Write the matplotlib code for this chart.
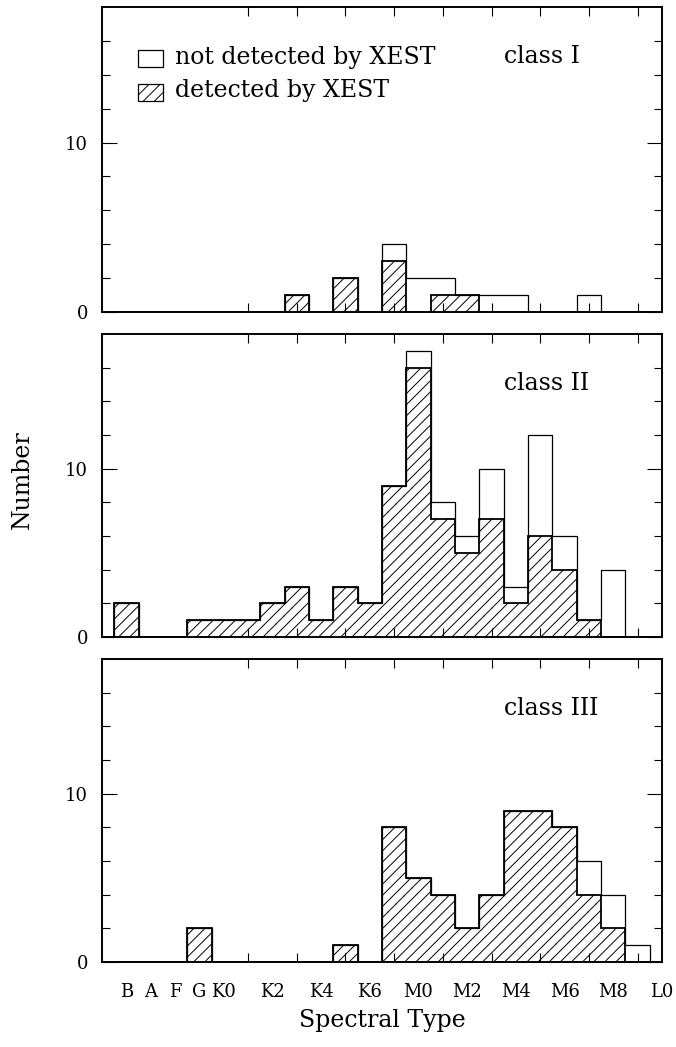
import numpy as np
import matplotlib
matplotlib.use('Agg')
import matplotlib.pyplot as plt
from matplotlib.patches import Rectangle

plt.rcParams['font.family'] = 'DejaVu Serif'
plt.rcParams['hatch.linewidth'] = 0.7

# spectral type bins B ... M9 (one bin per integer position)
bin_pos = np.arange(1, 23)
edges = np.arange(0.5, 23.0, 1.0)

type_pos = [1, 2, 3, 4, 5, 7, 9, 11, 13, 15, 17, 19, 21, 23]
type_labels = ['B', 'A', 'F', 'G', 'K0', 'K2', 'K4', 'K6', 'M0', 'M2', 'M4', 'M6', 'M8', 'L0']

# class I
total_1 = [0, 0, 0, 0, 0, 0, 0, 1, 0, 2, 0, 4, 2, 2, 1, 1, 1, 0, 0, 1, 0, 0]
xest_1 = [0, 0, 0, 0, 0, 0, 0, 1, 0, 2, 0, 3, 0, 1, 1, 0, 0, 0, 0, 0, 0, 0]
# class II
total_2 = [2, 0, 0, 1, 1, 1, 2, 3, 1, 3, 2, 9, 17, 8, 6, 10, 3, 12, 6, 1, 4, 0]
xest_2 = [2, 0, 0, 1, 1, 1, 2, 3, 1, 3, 2, 9, 16, 7, 5, 7, 2, 6, 4, 1, 0, 0]
# class III
total_3 = [0, 0, 0, 2, 0, 0, 0, 0, 0, 1, 0, 8, 5, 4, 2, 4, 9, 9, 8, 6, 4, 1]
xest_3 = [0, 0, 0, 2, 0, 0, 0, 0, 0, 1, 0, 8, 5, 4, 2, 4, 9, 9, 8, 4, 2, 0]

panels = [(total_1, xest_1, 'class I'),
          (total_2, xest_2, 'class II'),
          (total_3, xest_3, 'class III')]

W, H = 676, 1047
fig = plt.figure(figsize=(W / 100, H / 100), dpi=100)

left, right = 102, 662
tops = [(7, 312), (334, 637), (659, 962)]

for i, (total, xest, name) in enumerate(panels):
    y0, y1 = tops[i]
    ax = fig.add_axes([left / W, 1 - y1 / H, (right - left) / W, (y1 - y0) / H])

    ax.stairs(xest, edges, fill=True, facecolor='none', edgecolor='black',
              hatch='///', linewidth=1.3)
    ax.stairs(total, edges, fill=False, color='black', linewidth=0.9)

    ax.set_xlim(0, 23)
    ax.set_ylim(0, 18)
    for s in ax.spines.values():
        s.set_linewidth(1.4)

    ax.set_yticks([0, 10])
    ax.set_yticks([2, 4, 6, 8, 12, 14, 16], minor=True)
    ax.tick_params(axis='y', which='major', direction='in', length=11, width=0.8,
                   left=True, right=True, labelsize=13, pad=10)
    ax.tick_params(axis='y', which='minor', direction='in', length=5.8, width=0.8,
                   left=True, right=True)

    ax.set_xticks(bin_pos, minor=True)
    ax.tick_params(axis='x', which='minor', direction='in', length=6.5, width=0.8,
                   top=True, bottom=True)
    ax.set_xticks(type_pos)
    if i == 2:
        ax.set_xticklabels(type_labels)
    else:
        ax.set_xticklabels([])
    ax.tick_params(axis='x', which='major', length=0, labelsize=13, pad=15)

    ax.text(16.5, 14.7, name, fontsize=17, ha='left', va='baseline')

    if i == 0:
        ax.add_patch(Rectangle((1.49, 14.46), 1.0, 1.0, facecolor='none',
                               edgecolor='black', linewidth=0.9))
        ax.add_patch(Rectangle((1.49, 12.46), 1.0, 1.0, facecolor='none',
                               edgecolor='black', linewidth=0.9, hatch='///'))
        ax.text(3.0, 14.64, 'not detected by XEST', fontsize=17, va='baseline')
        ax.text(3.0, 12.7, 'detected by XEST', fontsize=17, va='baseline')

fig.text(382 / W, 1 - 1020 / H, 'Spectral Type', fontsize=17, ha='center', va='center')
fig.text(22 / W, 1 - 480 / H, 'Number', fontsize=17, ha='center', va='center',
         rotation=90)

fig.savefig('out.png', dpi=100)
